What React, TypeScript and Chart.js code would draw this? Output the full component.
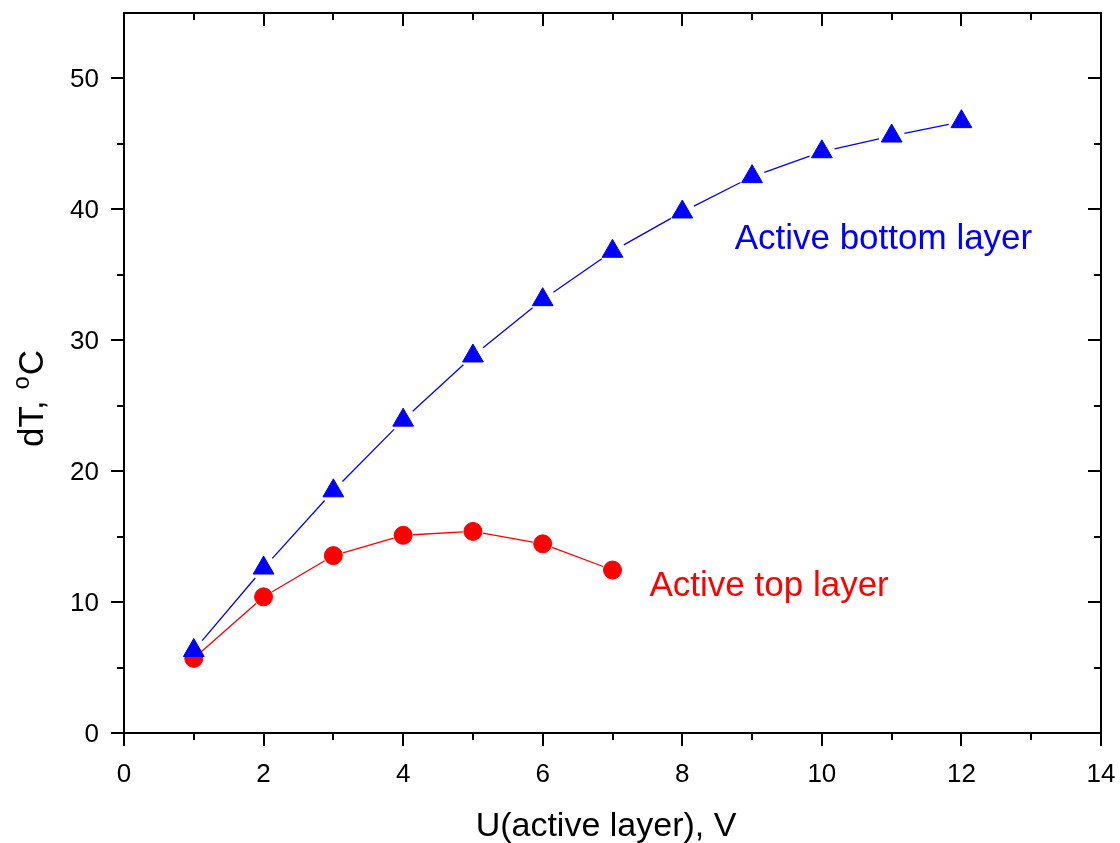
import React, { useEffect, useRef } from "react";
import { Chart, registerables } from "chart.js";

Chart.register(...registerables);

// ---- data ----
const bottomX = [1, 2, 3, 4, 5, 6, 7, 8, 9, 10, 11, 12];
const bottomLayer = [6.3, 12.6, 18.5, 23.9, 28.8, 33.1, 36.8, 39.8, 42.5, 44.4, 45.6, 46.7];
const topX = [1, 2, 3, 4, 5, 6, 7];
const topLayer = [5.7, 10.4, 13.55, 15.1, 15.4, 14.45, 12.45];

const xTicks = [0, 2, 4, 6, 8, 10, 12, 14];
const xMinorTicks = [1, 3, 5, 7, 9, 11, 13];
const yTicks = [0, 10, 20, 30, 40, 50];
const yMinorTicks = [5, 15, 25, 35, 45];

const xTitle = "U(active layer), V";
const yTitleMain = "dT, ";
const yTitleSup = "o";
const yTitleEnd = "C";
const bottomLabel = "Active bottom layer";
const topLabel = "Active top layer";

const FONT = "Arial, 'Liberation Sans', sans-serif";
const W = 1120;
const H = 843;

const framePlugin = {
  id: "originFrame",
  beforeDatasetsDraw(chart: any) {
    const ctx = chart.ctx;
    chart.data.datasets.forEach((ds: any, i: number) => {
      const meta = chart.getDatasetMeta(i);
      const gap = ds.gapSize || 0;
      ctx.save();
      ctx.strokeStyle = ds.lineColor;
      ctx.lineWidth = 1.3;
      ctx.beginPath();
      for (let k = 0; k < meta.data.length - 1; k++) {
        const a = meta.data[k];
        const b = meta.data[k + 1];
        const dx = b.x - a.x;
        const dy = b.y - a.y;
        const len = Math.hypot(dx, dy);
        if (len <= 2 * gap) continue;
        const ux = dx / len;
        const uy = dy / len;
        ctx.moveTo(a.x + ux * gap, a.y + uy * gap);
        ctx.lineTo(b.x - ux * gap, b.y - uy * gap);
      }
      ctx.stroke();
      ctx.restore();
    });
  },
  afterDraw(chart: any) {
    const ctx = chart.ctx;
    const { left, right, top, bottom } = chart.chartArea;
    const xs = chart.scales.x;
    const ys = chart.scales.y;
    ctx.save();
    ctx.strokeStyle = "#000";
    ctx.lineWidth = 2;
    ctx.strokeRect(left, top, right - left, bottom - top);
    const MAJ = 13;
    const MIN = 7;
    ctx.beginPath();
    xTicks.forEach((v) => {
      const p = Math.round(xs.getPixelForValue(v));
      ctx.moveTo(p, bottom);
      ctx.lineTo(p, bottom + MAJ);
      ctx.moveTo(p, top);
      ctx.lineTo(p, top + MAJ);
    });
    xMinorTicks.forEach((v) => {
      const p = Math.round(xs.getPixelForValue(v));
      ctx.moveTo(p, bottom);
      ctx.lineTo(p, bottom + MIN);
      ctx.moveTo(p, top);
      ctx.lineTo(p, top + MIN);
    });
    yTicks.forEach((v) => {
      const p = Math.round(ys.getPixelForValue(v));
      ctx.moveTo(left - MAJ, p);
      ctx.lineTo(left, p);
      ctx.moveTo(right - MAJ, p);
      ctx.lineTo(right, p);
    });
    yMinorTicks.forEach((v) => {
      const p = Math.round(ys.getPixelForValue(v));
      ctx.moveTo(left - MIN, p);
      ctx.lineTo(left, p);
      ctx.moveTo(right - MIN, p);
      ctx.lineTo(right, p);
    });
    ctx.stroke();

    // tick labels
    ctx.fillStyle = "#000";
    ctx.font = `26px ${FONT}`;
    ctx.textAlign = "center";
    ctx.textBaseline = "alphabetic";
    xTicks.forEach((v) => {
      ctx.fillText(String(v), xs.getPixelForValue(v), bottom + 49);
    });
    ctx.textAlign = "right";
    yTicks.forEach((v) => {
      ctx.fillText(String(v), left - 25, ys.getPixelForValue(v) + 9);
    });

    // axis titles
    ctx.font = `34px ${FONT}`;
    ctx.textAlign = "center";
    ctx.fillText(xTitle, 606, 836);
    ctx.save();
    ctx.translate(43, 447);
    ctx.rotate(-Math.PI / 2);
    ctx.textAlign = "left";
    ctx.font = `35px ${FONT}`;
    const w1 = ctx.measureText(yTitleMain).width;
    ctx.fillText(yTitleMain, 0, 0);
    ctx.font = `24px ${FONT}`;
    const w2 = ctx.measureText(yTitleSup).width;
    ctx.fillText(yTitleSup, w1 + 1, -14);
    ctx.font = `35px ${FONT}`;
    ctx.fillText(yTitleEnd, w1 + w2 + 2, 0);
    ctx.restore();

    // series annotations
    ctx.font = `35px ${FONT}`;
    ctx.textAlign = "left";
    ctx.fillStyle = "#0000FF";
    ctx.fillText(bottomLabel, xs.getPixelForValue(8.75), ys.getPixelForValue(36.95));
    ctx.fillStyle = "#FF0000";
    ctx.fillText(topLabel, xs.getPixelForValue(7.53), ys.getPixelForValue(10.45));
    ctx.restore();
  },
};

export default function App() {
  const ref = useRef<HTMLCanvasElement | null>(null);

  useEffect(() => {
    document.body.style.margin = "0";
    const canvas = ref.current;
    if (!canvas) return;
    const chart = new Chart(canvas, {
      type: "scatter",
      data: {
        datasets: [
          {
            label: bottomLabel,
            data: bottomX.map((x, i) => ({ x, y: bottomLayer[i] })),
            showLine: false,
            pointStyle: "triangle",
            pointRadius: 12,
            pointHoverRadius: 12,
            pointBackgroundColor: "#0000FF",
            pointBorderColor: "#0000FF",
            pointBorderWidth: 1,
            order: 0,
            lineColor: "#0000FF",
            gapSize: 13,
          } as any,
          {
            label: topLabel,
            data: topX.map((x, i) => ({ x, y: topLayer[i] })),
            showLine: false,
            pointStyle: "circle",
            pointRadius: 9,
            pointHoverRadius: 9,
            pointBackgroundColor: "#FF0000",
            pointBorderColor: "#FF0000",
            pointBorderWidth: 1,
            order: 1,
            lineColor: "#FF0000",
            gapSize: 10,
          } as any,
        ],
      },
      options: {
        animation: false,
        responsive: false,
        layout: { padding: { top: 8, right: 19, left: 0, bottom: 0 } },
        plugins: {
          legend: { display: false },
          tooltip: { enabled: false },
        },
        scales: {
          x: {
            type: "linear",
            min: 0,
            max: 14,
            grid: { display: false },
            border: { display: false },
            ticks: { display: false },
            afterFit: (s: any) => {
              s.height = 110;
            },
          },
          y: {
            type: "linear",
            min: 0,
            max: 55,
            grid: { display: false },
            border: { display: false },
            ticks: { display: false },
            afterFit: (s: any) => {
              s.width = 124;
            },
          },
        },
      },
      plugins: [framePlugin],
    });
    return () => chart.destroy();
  }, []);

  return (
    <div style={{ position: "absolute", left: 0, top: 0, width: W, height: H, background: "#fff" }}>
      <canvas ref={ref} width={W} height={H} style={{ width: W, height: H, display: "block" }} />
    </div>
  );
}
